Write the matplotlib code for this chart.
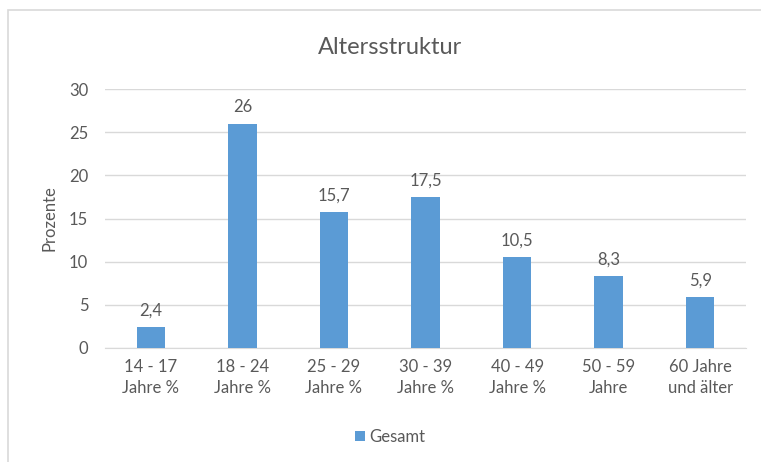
import matplotlib.pyplot as plt
from matplotlib.patches import Rectangle

categories = ['14 - 17\nJahre %', '18 - 24\nJahre %', '25 - 29\nJahre %',
              '30 - 39\nJahre %', '40 - 49\nJahre %', '50 - 59\nJahre',
              '60 Jahre\nund älter']
values = [2.4, 26, 15.7, 17.5, 10.5, 8.3, 5.9]
value_labels = ['2,4', '26', '15,7', '17,5', '10,5', '8,3', '5,9']
yticks = [0, 5, 10, 15, 20, 25, 30]

plt.rcParams['font.family'] = ['Lato', 'DejaVu Sans']
text_col = '#595959'
bar_col = '#5B9BD5'
grid_col = '#D9D9D9'

W, H = 761, 462
fig = plt.figure(figsize=(W / 100, H / 100), dpi=100)
# chart frame (cut off at right and bottom like the screenshot)
fig.patches.append(Rectangle((8 / W, -0.1), 1.0, 1.1 - 10 / H, transform=fig.transFigure,
                             fill=False, edgecolor=grid_col, linewidth=1.2))

ax = fig.add_axes([105 / W, 1 - 348 / H, (746 - 105) / W, (348 - 89) / H])
x = range(len(values))
bars = ax.bar(x, values, width=0.31, color=bar_col, zorder=3, label='Gesamt')
for xi, v, lab in zip(x, values, value_labels):
    ax.text(xi, v + 1.0, lab, ha='center', va='bottom', fontsize=12, color=text_col)

ax.set_xlim(-0.5, len(values) - 0.5)
ax.set_ylim(0, 30)
ax.set_yticks(yticks)
ax.set_yticklabels([str(t) for t in yticks], fontsize=12, color=text_col)
ax.set_xticks(list(x))
ax.set_xticklabels(categories, fontsize=12, color=text_col, linespacing=1.4)
ax.tick_params(length=0, pad=12)
ax.tick_params(axis='x', pad=8)
ax.grid(axis='y', color=grid_col, linewidth=1, zorder=0)
for s in ['top', 'right', 'left']:
    ax.spines[s].set_visible(False)
ax.spines['bottom'].set_color(grid_col)
ax.set_ylabel('Prozente', fontsize=12, color=text_col, labelpad=8)

fig.text(390 / W, 1 - 47 / H, 'Altersstruktur', ha='center', va='center',
         fontsize=17, color=text_col)
fig.legend(handles=[bars], labels=['Gesamt'], loc='center', bbox_to_anchor=(390 / W, 1 - 437 / H),
           frameon=False, fontsize=12, labelcolor=text_col, handlelength=0.6,
           handleheight=0.6, handletextpad=0.3)

fig.savefig('out.png', dpi=100)
